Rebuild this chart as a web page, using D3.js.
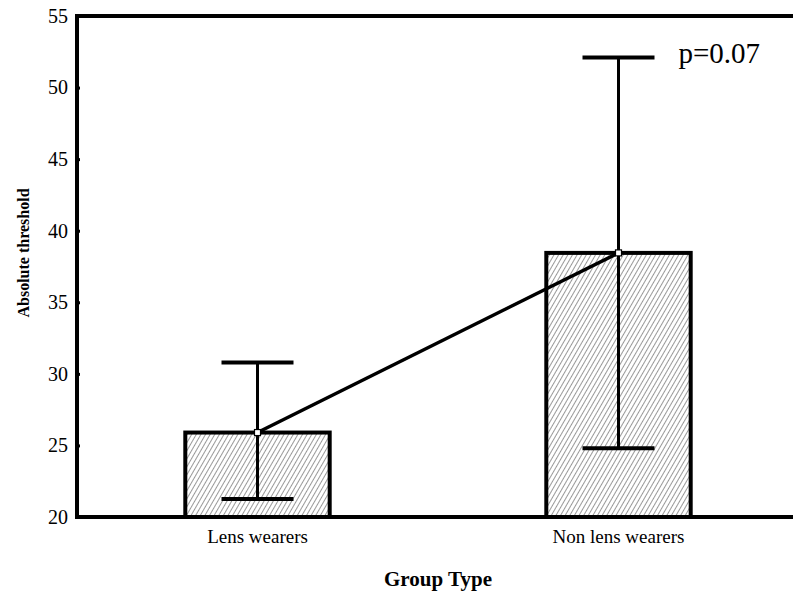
<!DOCTYPE html>
<html>
<head>
<meta charset="utf-8">
<script src="https://cdn.jsdelivr.net/npm/d3@7"></script>
<style>
  body { margin: 0; background: #fff; }
  text { font-family: "Liberation Serif", "Times New Roman", serif; fill: #000; }
</style>
</head>
<body>
<script>
const width = 793;
const height = 597;
const margin = { top: 16, right: -6, bottom: 80, left: 77 };

// data
const groups = ['Lens wearers', 'Non lens wearers'];
const means = [25.9, 38.45];
const errHigh = [30.8, 52.1];
const errLow = [21.25, 24.8];
const yTicks = [20, 25, 30, 35, 40, 45, 50, 55];
const pLabel = 'p=0.07';

const chartWidth = width - margin.left - margin.right;
const chartHeight = height - margin.top - margin.bottom;

const svg = d3.select('body')
    .append('svg')
    .attr('width', width)
    .attr('height', height);

// hatch pattern
const defs = svg.append('defs');
const pat = defs.append('pattern')
    .attr('id', 'hatch')
    .attr('patternUnits', 'userSpaceOnUse')
    .attr('width', 4)
    .attr('height', 4)
    .attr('patternTransform', 'rotate(30)');
pat.append('rect').attr('width', 4).attr('height', 4).attr('fill', '#fff');
pat.append('line')
    .attr('x1', 0).attr('y1', 0).attr('x2', 0).attr('y2', 4)
    .attr('stroke', '#333').attr('stroke-width', 1);

const g = svg.append('g')
    .attr('transform', `translate(${margin.left}, ${margin.top})`);

const xScale = d3.scaleBand()
    .domain(groups)
    .range([0, chartWidth])
    .paddingInner(0.6)
    .paddingOuter(0.3);

const yScale = d3.scaleLinear()
    .domain([20, 55])
    .range([chartHeight, 0]);

const cx = (d) => xScale(d) + xScale.bandwidth() / 2;

// bars
g.selectAll('.bar')
    .data(groups)
    .enter()
    .append('rect')
    .attr('x', (d) => xScale(d))
    .attr('y', (d, i) => yScale(means[i]))
    .attr('width', xScale.bandwidth())
    .attr('height', (d, i) => yScale(20) - yScale(means[i]))
    .attr('fill', 'url(#hatch)')
    .attr('stroke', '#000')
    .attr('stroke-width', 4);

// error bars
groups.forEach((d, i) => {
    g.append('line')
        .attr('x1', cx(d)).attr('x2', cx(d))
        .attr('y1', yScale(errHigh[i])).attr('y2', yScale(errLow[i]))
        .attr('stroke', '#000').attr('stroke-width', 3);
    [errHigh[i], errLow[i]].forEach((v) => {
        g.append('line')
            .attr('x1', cx(d) - 36).attr('x2', cx(d) + 36)
            .attr('y1', yScale(v)).attr('y2', yScale(v))
            .attr('stroke', '#000').attr('stroke-width', 4);
    });
});

// connecting line
const line = d3.line()
    .x((d) => cx(d))
    .y((d, i) => yScale(means[i]));
g.append('path')
    .datum(groups)
    .attr('fill', 'none')
    .attr('stroke', '#000')
    .attr('stroke-width', 3.5)
    .attr('d', line);

g.selectAll('.pt')
    .data(groups)
    .enter()
    .append('rect')
    .attr('x', (d) => cx(d) - 3)
    .attr('y', (d, i) => yScale(means[i]) - 3)
    .attr('width', 6)
    .attr('height', 6)
    .attr('fill', '#fff')
    .attr('stroke', '#000')
    .attr('stroke-width', 1.2);

// y axis
const yAxis = g.append('g')
    .call(d3.axisLeft(yScale).tickValues(yTicks).tickSize(-3).tickPadding(9));
yAxis.select('.domain').remove();
yAxis.selectAll('.tick line').attr('stroke', '#000').attr('stroke-width', 3);
yAxis.selectAll('text')
    .attr('font-size', 20)
    .attr('font-family', '"Liberation Serif", serif');

// x axis labels
const xAxis = g.append('g')
    .attr('transform', `translate(0, ${chartHeight})`)
    .call(d3.axisBottom(xScale).tickSize(0).tickPadding(13));
xAxis.select('.domain').remove();
xAxis.selectAll('text')
    .attr('font-size', 19)
    .attr('font-family', '"Liberation Serif", serif');

// frame: left, top, bottom
g.append('path')
    .attr('d', `M${chartWidth},0 L0,0 L0,${chartHeight} L${chartWidth},${chartHeight}`)
    .attr('fill', 'none')
    .attr('stroke', '#000')
    .attr('stroke-width', 4)
    .attr('stroke-linejoin', 'miter');

// p label
g.append('text')
    .attr('x', cx(groups[1]) + 60)
    .attr('y', yScale(52.1) + 5)
    .attr('font-size', 29)
    .text(pLabel);

// axis titles
svg.append('text')
    .attr('x', 438)
    .attr('y', 586)
    .attr('text-anchor', 'middle')
    .attr('font-size', 21)
    .attr('font-weight', 'bold')
    .text('Group Type');

svg.append('text')
    .attr('transform', 'translate(29, 253) rotate(-90)')
    .attr('text-anchor', 'middle')
    .attr('font-size', 16)
    .attr('font-weight', 'bold')
    .text('Absolute threshold');
</script>
</body>
</html>
